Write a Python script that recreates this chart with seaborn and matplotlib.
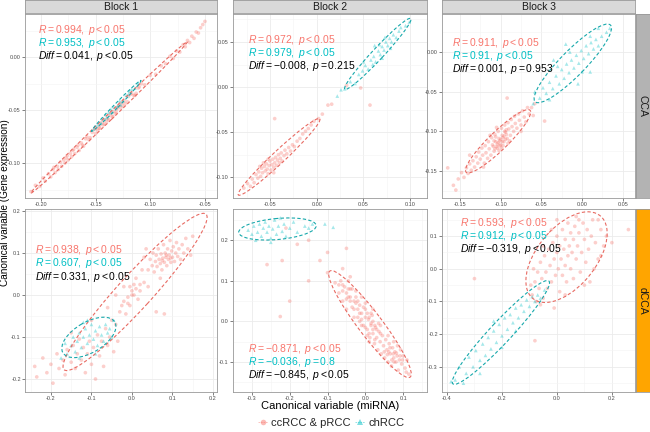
import numpy as np
import pandas as pd
import seaborn as sns
import matplotlib.pyplot as plt
from matplotlib.patches import Ellipse
from matplotlib.lines import Line2D
from matplotlib.ticker import MultipleLocator, FormatStrFormatter

RED = '#F8766D'
CYAN = '#00BFC4'

blocks = ['Block 1', 'Block 2', 'Block 3']
methods = ['CCA', 'dCCA']
groups = ['ccRCC & pRCC', 'chRCC']

## points, (x, y) pairs
## ========
cca1_red = [(-0.209,-0.127), (-0.205,-0.121), (-0.201,-0.122), (-0.198,-0.114), (-0.196,-0.117),
            (-0.193,-0.110), (-0.191,-0.113), (-0.189,-0.106), (-0.187,-0.109), (-0.185,-0.103),
            (-0.184,-0.106), (-0.182,-0.099), (-0.181,-0.103), (-0.179,-0.097), (-0.178,-0.100),
            (-0.176,-0.093), (-0.175,-0.097), (-0.173,-0.091), (-0.172,-0.094), (-0.170,-0.087),
            (-0.169,-0.091), (-0.167,-0.085), (-0.165,-0.088), (-0.163,-0.081), (-0.161,-0.084),
            (-0.159,-0.077), (-0.156,-0.078), (-0.153,-0.071), (-0.150,-0.072), (-0.146,-0.064),
            (-0.142,-0.063), (-0.138,-0.055), (-0.134,-0.056), (-0.130,-0.048), (-0.125,-0.046),
            (-0.120,-0.037), (-0.115,-0.036), (-0.110,-0.028), (-0.105,-0.026), (-0.100,-0.017),
            (-0.095,-0.016), (-0.090,-0.008), (-0.086,-0.006), (-0.082,0.001), (-0.079,-0.001),
            (-0.076,0.006), (-0.073,0.005), (-0.070,0.012), (-0.068,0.010), (-0.066,0.016),
            (-0.064,0.014), (-0.062,0.020), (-0.060,0.018), (-0.058,0.024), (-0.056,0.023),
            (-0.054,0.028), (-0.052,0.031), (-0.050,0.034), (-0.177,-0.095), (-0.171,-0.088),
            (-0.166,-0.083), (-0.188,-0.104), (-0.155,-0.076), (-0.151,-0.068), (-0.148,-0.069),
            (-0.144,-0.061), (-0.140,-0.061), (-0.136,-0.053), (-0.132,-0.053), (-0.128,-0.045),
            (-0.123,-0.044), (-0.118,-0.035), (-0.113,-0.034), (-0.108,-0.025), (-0.162,-0.083),
            (-0.158,-0.075), (-0.147,-0.067), (-0.139,-0.058), (-0.143,-0.064), (-0.126,-0.043),
            (-0.150,-0.067), (-0.146,-0.067), (-0.142,-0.059), (-0.138,-0.059), (-0.134,-0.051),
            (-0.131,-0.052), (-0.129,-0.046), (-0.127,-0.048), (-0.124,-0.041), (-0.121,-0.042),
            (-0.117,-0.034), (-0.114,-0.036), (-0.111,-0.029), (-0.135,-0.056), (-0.131,-0.049)]
cca1_cyan = [(-0.152,-0.068), (-0.148,-0.064), (-0.145,-0.062), (-0.143,-0.058), (-0.140,-0.057),
             (-0.138,-0.052), (-0.135,-0.052), (-0.133,-0.047), (-0.130,-0.046), (-0.128,-0.041),
             (-0.125,-0.041), (-0.122,-0.036), (-0.120,-0.035), (-0.117,-0.030), (-0.114,-0.029),
             (-0.111,-0.024), (-0.141,-0.054), (-0.127,-0.045), (-0.119,-0.032), (-0.136,-0.049)]

cca2_red = [(-0.078,-0.112), (-0.074,-0.107), (-0.071,-0.110), (-0.069,-0.102), (-0.067,-0.106),
            (-0.065,-0.097), (-0.063,-0.101), (-0.062,-0.094), (-0.060,-0.099), (-0.059,-0.090),
            (-0.058,-0.095), (-0.056,-0.088), (-0.055,-0.093), (-0.054,-0.085), (-0.053,-0.091),
            (-0.052,-0.096), (-0.051,-0.087), (-0.050,-0.082), (-0.049,-0.092), (-0.048,-0.086),
            (-0.047,-0.080), (-0.046,-0.089), (-0.045,-0.084), (-0.044,-0.078), (-0.043,-0.087),
            (-0.042,-0.081), (-0.041,-0.075), (-0.040,-0.084), (-0.039,-0.079), (-0.038,-0.073),
            (-0.037,-0.082), (-0.035,-0.076), (-0.034,-0.070), (-0.032,-0.074), (-0.030,-0.067),
            (-0.028,-0.071), (-0.026,-0.064), (-0.024,-0.066), (-0.021,-0.060), (-0.018,-0.057),
            (-0.015,-0.052), (-0.012,-0.049), (-0.009,-0.046), (-0.006,-0.042), (-0.003,-0.038),
            (0.002,-0.035), (0.006,-0.030), (0.012,-0.020), (-0.045,-0.035), (0.057,-0.020),
            (0.047,-0.001), (0.032,0.002), (0.016,-0.019), (-0.057,-0.084), (-0.061,-0.088),
            (-0.046,-0.095), (-0.052,-0.080)]
cca2_cyan = [(0.030,-0.002), (0.036,0.006), (0.041,0.004), (0.045,0.014), (0.049,0.018),
             (0.052,0.024), (0.055,0.020), (0.058,0.030), (0.061,0.034), (0.063,0.028),
             (0.066,0.040), (0.068,0.036), (0.070,0.045), (0.072,0.041), (0.074,0.050),
             (0.076,0.046), (0.078,0.054), (0.080,0.050), (0.082,0.058), (0.085,0.055),
             (0.088,0.062), (0.067,0.047), (0.073,0.055), (0.079,0.043), (0.060,0.025),
             (0.090,0.066), (0.022,-0.010), (0.026,-0.003), (0.095,0.068), (0.099,0.072),
             (0.050,0.028), (0.070,0.032), (0.062,0.046)]

cca3_red = [(-0.158,-0.168), (-0.152,-0.160), (-0.148,-0.152), (-0.145,-0.158), (-0.142,-0.146),
            (-0.140,-0.153), (-0.138,-0.141), (-0.136,-0.149), (-0.134,-0.137), (-0.132,-0.145),
            (-0.130,-0.132), (-0.128,-0.140), (-0.127,-0.126), (-0.125,-0.135), (-0.123,-0.121),
            (-0.122,-0.130), (-0.120,-0.140), (-0.119,-0.118), (-0.118,-0.127), (-0.116,-0.134),
            (-0.115,-0.113), (-0.114,-0.122), (-0.112,-0.130), (-0.111,-0.108), (-0.110,-0.117),
            (-0.108,-0.125), (-0.107,-0.104), (-0.106,-0.113), (-0.104,-0.121), (-0.103,-0.100),
            (-0.102,-0.109), (-0.100,-0.117), (-0.099,-0.096), (-0.098,-0.105), (-0.096,-0.113),
            (-0.095,-0.092), (-0.094,-0.101), (-0.092,-0.109), (-0.091,-0.089), (-0.090,-0.097),
            (-0.088,-0.105), (-0.087,-0.085), (-0.086,-0.094), (-0.084,-0.100), (-0.083,-0.081),
            (-0.082,-0.090), (-0.080,-0.096), (-0.078,-0.078), (-0.077,-0.086), (-0.075,-0.092),
            (-0.073,-0.074), (-0.071,-0.082), (-0.069,-0.088), (-0.067,-0.070), (-0.065,-0.078),
            (-0.062,-0.070), (-0.060,-0.080), (-0.058,-0.065), (-0.092,-0.058), (-0.046,-0.087),
            (-0.165,-0.146), (-0.155,-0.174), (-0.105,-0.095), (-0.097,-0.118), (-0.113,-0.105),
            (-0.089,-0.112), (-0.121,-0.145), (-0.075,-0.100), (-0.138,-0.130), (-0.101,-0.112),
            (-0.097,-0.108), (-0.104,-0.116), (-0.093,-0.104), (-0.109,-0.119), (-0.099,-0.121),
            (-0.095,-0.100), (-0.106,-0.107), (-0.102,-0.124), (-0.091,-0.115), (-0.100,-0.110),
            (-0.103,-0.114), (-0.098,-0.113), (-0.105,-0.119), (-0.096,-0.106), (-0.108,-0.112),
            (-0.094,-0.110), (-0.101,-0.118), (-0.107,-0.122), (-0.093,-0.098)]
cca3_cyan = [(-0.052,-0.058), (-0.048,-0.045), (-0.044,-0.052), (-0.040,-0.038), (-0.036,-0.046),
             (-0.032,-0.030), (-0.028,-0.040), (-0.025,-0.022), (-0.022,-0.033), (-0.019,-0.015),
             (-0.016,-0.026), (-0.013,-0.010), (-0.010,-0.020), (-0.007,-0.004), (-0.004,-0.014),
             (-0.001,0.002), (0.002,-0.008), (0.005,0.008), (0.008,-0.002), (0.011,0.012),
             (0.014,0.004), (0.017,0.016), (0.020,0.008), (0.024,0.020), (-0.030,-0.018),
             (0.000,-0.025), (-0.015,0.000), (0.010,0.020), (-0.060,-0.065), (0.030,0.025),
             (0.034,0.030), (-0.058,-0.050), (-0.035,-0.010), (-0.005,-0.040), (0.010,-0.025),
             (-0.040,-0.060), (0.020,0.030), (-0.020,0.010)]

dcca1_red = [(0.040,0.060), (0.045,0.085), (0.050,0.070), (0.052,0.100), (0.055,0.055),
             (0.058,0.080), (0.060,0.095), (0.062,0.068), (0.065,0.110), (0.067,0.085),
             (0.070,0.075), (0.072,0.098), (0.074,0.060), (0.076,0.088), (0.078,0.120),
             (0.080,0.078), (0.082,0.100), (0.084,0.090), (0.086,0.070), (0.088,0.110),
             (0.090,0.085), (0.092,0.095), (0.094,0.130), (0.096,0.078), (0.098,0.105),
             (0.100,0.090), (0.102,0.115), (0.105,0.080), (0.108,0.100), (0.110,0.125),
             (0.113,0.092), (0.116,0.110), (0.120,0.085), (0.124,0.120), (0.128,0.100),
             (0.133,0.135), (0.138,0.110), (0.145,0.095), (0.150,0.140), (0.070,0.040),
             (0.030,0.090), (0.035,0.110), (0.085,0.095), (0.095,0.088), (0.075,0.082),
             (0.000,0.010), (0.010,0.040), (0.020,0.025), (0.025,0.060), (-0.010,-0.020),
             (-0.020,0.020), (-0.030,-0.040), (0.015,-0.010), (-0.040,0.000), (0.060,-0.040),
             (0.080,-0.045), (-0.050,-0.060), (-0.060,-0.030), (0.005,0.000), (-0.005,0.020),
             (0.030,0.030), (-0.025,-0.025), (0.040,0.020), (-0.015,-0.045), (0.000,0.000),
             (0.010,0.015), (-0.010,-0.005), (0.020,0.010), (-0.020,-0.015), (0.005,0.025),
             (-0.005,-0.025),
             (-0.240,-0.170), (-0.235,-0.195), (-0.220,-0.150), (-0.210,-0.185), (-0.200,-0.165),
             (-0.195,-0.210), (-0.185,-0.140), (-0.180,-0.175), (-0.170,-0.155), (-0.165,-0.190),
             (-0.160,-0.130), (-0.150,-0.160), (-0.145,-0.120), (-0.140,-0.175), (-0.135,-0.140),
             (-0.130,-0.105), (-0.125,-0.155), (-0.120,-0.125), (-0.115,-0.185), (-0.110,-0.140),
             (-0.105,-0.110), (-0.100,-0.165), (-0.095,-0.125), (-0.090,-0.200), (-0.085,-0.095),
             (-0.080,-0.145), (-0.075,-0.110), (-0.070,-0.170), (-0.065,-0.080), (-0.060,-0.120),
             (-0.055,-0.100), (-0.045,-0.135), (-0.040,-0.070), (-0.035,-0.110), (-0.100,-0.060),
             (-0.150,-0.090)]
dcca1_cyan = [(-0.160,-0.140), (-0.150,-0.120), (-0.145,-0.100), (-0.140,-0.135), (-0.135,-0.110),
              (-0.130,-0.090), (-0.125,-0.125), (-0.120,-0.100), (-0.115,-0.080), (-0.110,-0.115),
              (-0.105,-0.095), (-0.100,-0.070), (-0.095,-0.105), (-0.090,-0.085), (-0.085,-0.120),
              (-0.080,-0.075), (-0.075,-0.095), (-0.070,-0.110), (-0.065,-0.070), (-0.060,-0.090),
              (-0.110,-0.060), (-0.130,-0.150), (-0.090,-0.140), (-0.055,-0.080), (-0.175,-0.150),
              (-0.045,-0.060), (-0.165,-0.115), (-0.050,-0.100), (-0.120,-0.065)]

dcca2_red = [(-0.060,0.090), (-0.050,0.070), (-0.045,0.100), (-0.040,0.050), (-0.035,0.080),
             (-0.030,0.030), (-0.025,0.060), (-0.020,0.010), (-0.015,0.040), (-0.010,0.020),
             (-0.005,-0.010), (0.000,0.030), (0.005,-0.020), (0.008,0.005), (0.012,-0.040),
             (0.015,-0.010), (0.018,0.015), (0.020,-0.030), (0.024,-0.055), (0.027,-0.015),
             (0.030,-0.040), (0.033,-0.070), (0.036,-0.025), (0.039,-0.050), (0.042,-0.080),
             (0.045,-0.035), (0.048,-0.060), (0.051,-0.090), (0.054,-0.045), (0.057,-0.070),
             (0.060,-0.100), (0.063,-0.055), (0.066,-0.080), (0.069,-0.110), (0.072,-0.065),
             (0.075,-0.090), (0.078,-0.075), (0.081,-0.100), (0.084,-0.085), (0.087,-0.120),
             (0.090,-0.095), (0.093,-0.070), (0.096,-0.105), (0.100,-0.085), (0.105,-0.115),
             (0.110,-0.095), (0.115,-0.130), (0.060,-0.035), (0.040,-0.010), (0.075,-0.050),
             (0.085,-0.060), (0.050,-0.075), (0.070,-0.095), (0.065,-0.065),
             (0.062,-0.075), (0.074,-0.080), (0.058,-0.082), (0.082,-0.078), (0.092,-0.085),
             (0.098,-0.095), (0.076,-0.100), (0.108,-0.125),
             (-0.070,0.070), (-0.060,0.050), (-0.050,0.030), (-0.040,0.080), (-0.030,0.010),
             (-0.020,0.050), (-0.010,-0.010), (0.000,0.010), (0.010,-0.030), (0.020,0.000),
             (-0.080,0.095), (-0.065,0.100), (-0.045,0.060), (-0.015,0.020), (0.005,-0.035),
             (0.015,0.020), (-0.035,0.035), (-0.055,0.085), (0.025,-0.045), (-0.025,0.075),
             (-0.010,0.005), (0.000,-0.015), (0.010,0.010), (0.020,-0.020), (-0.005,0.035),
             (0.015,-0.005), (0.025,-0.010), (-0.020,0.030), (0.005,0.020), (0.030,-0.020),
             (-0.030,0.050), (-0.040,0.060), (0.010,-0.050), (-0.015,0.000), (0.035,-0.005),
             (-0.025,0.045), (-0.050,0.055), (0.000,0.045), (0.040,-0.030), (-0.060,0.075),
             (-0.070,0.090), (-0.045,0.080), (0.020,0.030), (-0.010,0.060),
             (-0.260,0.140), (-0.220,0.150), (-0.200,0.050), (-0.225,0.012), (-0.150,0.200),
             (-0.120,0.150), (-0.100,0.120), (-0.060,0.130), (-0.050,0.180), (-0.150,0.100),
             (-0.180,0.190), (-0.040,0.110), (-0.210,0.230), (-0.100,0.170)]
dcca2_cyan = [(-0.310,0.225), (-0.300,0.215), (-0.295,0.235), (-0.285,0.220), (-0.280,0.240),
              (-0.275,0.210), (-0.270,0.230), (-0.265,0.245), (-0.260,0.220), (-0.255,0.235),
              (-0.250,0.205), (-0.245,0.228), (-0.240,0.250), (-0.235,0.215), (-0.230,0.235),
              (-0.225,0.255), (-0.220,0.222), (-0.215,0.240), (-0.210,0.210), (-0.200,0.230),
              (-0.190,0.245), (-0.180,0.220), (-0.250,0.195), (-0.290,0.200), (-0.160,0.235),
              (-0.107,0.240), (-0.085,0.232), (-0.150,0.230), (-0.140,0.240)]

dcca3_red = [(-0.090,-0.080), (-0.080,-0.040), (-0.075,-0.100), (-0.070,-0.010), (-0.065,-0.060),
             (-0.060,0.020), (-0.055,-0.030), (-0.050,-0.090), (-0.045,0.040), (-0.040,-0.010),
             (-0.035,-0.060), (-0.030,0.060), (-0.025,0.010), (-0.020,-0.040), (-0.015,0.080),
             (-0.010,0.030), (-0.005,-0.020), (0.000,0.100), (0.000,0.050), (0.005,0.000),
             (0.010,-0.070), (0.010,0.070), (0.015,0.030), (0.020,0.120), (0.020,-0.020),
             (0.025,0.060), (0.030,0.010), (0.030,0.090), (0.035,-0.040), (0.040,0.040),
             (0.040,0.140), (0.045,0.070), (0.050,0.000), (0.050,0.110), (0.055,0.050),
             (0.060,-0.030), (0.060,0.090), (0.065,0.130), (0.070,0.030), (0.075,0.070),
             (0.080,0.110), (0.085,-0.010), (0.090,0.050), (0.095,0.140), (0.100,0.090),
             (0.105,0.020), (0.110,0.120), (0.115,0.060), (0.120,-0.040), (0.125,0.100),
             (0.130,0.150), (0.140,0.080), (0.150,0.030), (0.160,0.120), (0.170,0.070),
             (0.200,0.080), (0.260,0.120), (-0.300,-0.030), (-0.080,-0.220), (-0.010,-0.120),
             (0.030,-0.080), (0.000,0.150), (-0.020,0.120), (0.070,0.160), (-0.095,-0.050),
             (-0.085,0.000), (0.150,0.150), (0.135,0.000), (0.100,-0.050), (-0.050,0.070),
             (0.180,0.100), (-0.060,-0.110), (0.080,0.150), (0.160,0.040)]
dcca3_cyan = [(-0.370,-0.340), (-0.355,-0.300), (-0.340,-0.350), (-0.330,-0.320), (-0.320,-0.270),
              (-0.305,-0.300), (-0.295,-0.250), (-0.280,-0.280), (-0.270,-0.230), (-0.260,-0.265),
              (-0.250,-0.210), (-0.240,-0.245), (-0.230,-0.190), (-0.220,-0.225), (-0.210,-0.170),
              (-0.200,-0.205), (-0.190,-0.150), (-0.180,-0.185), (-0.170,-0.140), (-0.160,-0.165),
              (-0.150,-0.120), (-0.140,-0.150), (-0.130,-0.110), (-0.120,-0.130), (-0.110,-0.095),
              (-0.100,-0.115), (-0.090,-0.085), (-0.080,-0.100), (-0.070,-0.080), (-0.060,-0.090),
              (-0.280,-0.320), (-0.200,-0.240), (-0.150,-0.190), (-0.230,-0.160), (-0.385,-0.345),
              (-0.045,-0.065)]

## correlation labels
r_red = [['0.994', '0.972', '0.911'], ['0.938', '-0.871', '0.593']]
p_red = [['<0.05', '<0.05', '<0.05'], ['<0.05', '<0.05', '<0.05']]
r_cyan = [['0.953', '0.979', '0.91'], ['0.607', '-0.036', '0.912']]
p_cyan = [['<0.05', '<0.05', '<0.05'], ['<0.05', '=0.8', '<0.05']]
diff = [['0.041', '-0.008', '0.001'], ['0.331', '-0.845', '-0.319']]
p_diff = [['<0.05', '=0.215', '=0.953'], ['<0.05', '<0.05', '<0.05']]

points = {('CCA', 'Block 1'): (cca1_red, cca1_cyan), ('CCA', 'Block 2'): (cca2_red, cca2_cyan),
          ('CCA', 'Block 3'): (cca3_red, cca3_cyan), ('dCCA', 'Block 1'): (dcca1_red, dcca1_cyan),
          ('dCCA', 'Block 2'): (dcca2_red, dcca2_cyan), ('dCCA', 'Block 3'): (dcca3_red, dcca3_cyan)}

rows = []
for (m, b), (red, cyan) in points.items():
    for g, pts in zip(groups, (red, cyan)):
        for x, y in pts:
            rows.append((m, b, g, x, y))
df = pd.DataFrame(rows, columns=['method', 'block', 'group', 'x', 'y'])

# axis limits / tick steps per panel
xlims = [[(-0.2145, -0.039), (-0.0896, 0.118), (-0.172, 0.065)],
         [(-0.264, 0.21), (-0.350, 0.163), (-0.418, 0.284)]]
ylims = [[(-0.133, 0.041), (-0.123, 0.081), (-0.184, 0.048)],
         [(-0.231, 0.205), (-0.174, 0.277), (-0.377, 0.183)]]
xsteps = [[0.05, 0.05, 0.05], [0.1, 0.1, 0.2]]
ysteps = [[0.05, 0.05, 0.05], [0.1, 0.1, 0.1]]
text_pos = [[(0.067, 0.913), (0.077, 0.858), (0.052, 0.842)],
            [(0.052, 0.775), (0.077, 0.236), (0.093, 0.923)]]

sns.set_style('white')
plt.rcParams['font.family'] = ['Liberation Sans', 'DejaVu Sans']
plt.rcParams['mathtext.fontset'] = 'custom'
plt.rcParams['mathtext.rm'] = 'Liberation Sans'
plt.rcParams['mathtext.it'] = 'Liberation Sans:italic'
plt.rcParams['axes.unicode_minus'] = False

W, H = 650, 432
fig = plt.figure(figsize=(6.5, 4.32), dpi=100)


def box(x0, y0, x1, y1):
    return [x0 / W, 1 - y1 / H, (x1 - x0) / W, (y1 - y0) / H]


def robust_cov(xy, nu=5):
    # multivariate t fit, same idea as MASS::cov.trob used by stat_ellipse
    n, p = xy.shape
    w = np.ones(n)
    for _ in range(100):
        m = (w[:, None] * xy).sum(0) / w.sum()
        d = xy - m
        cov = (w[:, None] * d).T @ d / n
        dist = np.einsum('ij,jk,ik->i', d, np.linalg.inv(cov), d)
        w = (nu + p) / (nu + dist)
    return m, cov


def add_ellipse(ax, pts, color, level=0.85):
    xy = np.array(pts)
    n = len(xy)
    m, cov = robust_cov(xy)
    dfd = n - 1
    qf = dfd / 2 * ((1 - level) ** (-2 / dfd) - 1)
    radius = np.sqrt(2 * qf)
    vals, vecs = np.linalg.eigh(cov)
    vals, vecs = vals[::-1], vecs[:, ::-1]
    angle = np.degrees(np.arctan2(vecs[1, 0], vecs[0, 0]))
    w, h = 2 * radius * np.sqrt(vals)
    ax.add_patch(Ellipse(m, w, h, angle=angle, fill=False,
                         ls=(0, (3, 2)), lw=0.8, color=color))


col_x = [(25, 217), (233, 427), (442, 635)]
row_y = [(14, 198), (209, 392)]
strip_cols = {'CCA': '#B3B3B3', 'dCCA': '#FFA500'}

for i, m in enumerate(methods):
    for j, b in enumerate(blocks):
        ax = fig.add_axes(box(col_x[j][0], row_y[i][0], col_x[j][1], row_y[i][1]))
        sub = df[(df.method == m) & (df.block == b)]
        sns.scatterplot(data=sub, x='x', y='y', hue='group', style='group',
                        palette={groups[0]: RED, groups[1]: CYAN},
                        markers={groups[0]: 'o', groups[1]: '^'},
                        s=7, alpha=0.35, linewidth=0, legend=False, ax=ax)
        red, cyan = points[(m, b)]
        add_ellipse(ax, red, '#E86A62')
        add_ellipse(ax, cyan, '#16A8AB')
        ax.set_xlim(xlims[i][j])
        ax.set_ylim(ylims[i][j])
        ax.xaxis.set_major_locator(MultipleLocator(xsteps[i][j]))
        ax.yaxis.set_major_locator(MultipleLocator(ysteps[i][j]))
        ax.xaxis.set_minor_locator(MultipleLocator(xsteps[i][j] / 2))
        ax.yaxis.set_minor_locator(MultipleLocator(ysteps[i][j] / 2))
        fmt_x = '%.2f' if xsteps[i][j] < 0.1 else '%.1f'
        fmt_y = '%.2f' if ysteps[i][j] < 0.1 else '%.1f'
        ax.xaxis.set_major_formatter(FormatStrFormatter(fmt_x))
        ax.yaxis.set_major_formatter(FormatStrFormatter(fmt_y))
        ax.grid(True, which='major', color='#EBEBEB', lw=0.6)
        ax.grid(True, which='minor', color='#F4F4F4', lw=0.4)
        ax.set_axisbelow(True)
        ax.tick_params(labelsize=4, length=2, width=0.5, pad=1.0,
                       colors='#4D4D4D', bottom=True, left=True, which='major')
        for sp in ax.spines.values():
            sp.set_color('#999999')
            sp.set_linewidth(0.6)
        ax.set_xlabel('')
        ax.set_ylabel('')

        tx, ty = text_pos[i][j]
        dy = 0.071 if i == 0 else 0.072
        ax.text(tx, ty, r'$R=' + r_red[i][j] + r',\ p' + p_red[i][j] + '$',
                color=RED, fontsize=7.5, transform=ax.transAxes, va='center')
        ax.text(tx, ty - dy, r'$R=' + r_cyan[i][j] + r',\ p' + p_cyan[i][j] + '$',
                color=CYAN, fontsize=7.5, transform=ax.transAxes, va='center')
        ax.text(tx, ty - 2 * dy, r'$Diff=' + diff[i][j] + r',\ p' + p_diff[i][j] + '$',
                color='black', fontsize=7.5, transform=ax.transAxes, va='center')

        if i == 0:
            sax = fig.add_axes(box(col_x[j][0], 0, col_x[j][1], 13))
            sax.set_facecolor('#D9D9D9')
            sax.set_xticks([])
            sax.set_yticks([])
            for sp in sax.spines.values():
                sp.set_color('#999999')
                sp.set_linewidth(0.6)
            sax.text(0.5, 0.5, b, ha='center', va='center', fontsize=7.5, color='#1A1A1A')
        if j == 2:
            rax = fig.add_axes(box(636, row_y[i][0], 650, row_y[i][1]))
            rax.set_facecolor(strip_cols[m])
            rax.set_xticks([])
            rax.set_yticks([])
            for sp in rax.spines.values():
                sp.set_color('#999999')
                sp.set_linewidth(0.6)
            rax.text(0.5, 0.5, m, ha='center', va='center', rotation=-90,
                     fontsize=7.5, color='#1A1A1A')

fig.text(330 / W, 1 - 406 / H, 'Canonical variable (miRNA)', ha='center', va='center',
         fontsize=8, color='black')
fig.text(4.6 / W, 1 - 203 / H, 'Canonical variable (Gene expression)', ha='center',
         va='center', rotation=90, fontsize=7.2, color='black')

handles = [Line2D([], [], color=RED, marker='o', ls=(0, (2, 1)), lw=0.6, ms=4, alpha=0.5,
                  markeredgewidth=0),
           Line2D([], [], color=CYAN, marker='^', ls=(0, (2, 1)), lw=0.6, ms=4, alpha=0.5,
                  markeredgewidth=0)]
fig.legend(handles, groups, loc='center', bbox_to_anchor=(331 / W, 1 - 423 / H), ncol=2,
           frameon=False, fontsize=8, handlelength=0.9, handletextpad=0.3, columnspacing=0.4)

fig.savefig('out.png', dpi=100)
